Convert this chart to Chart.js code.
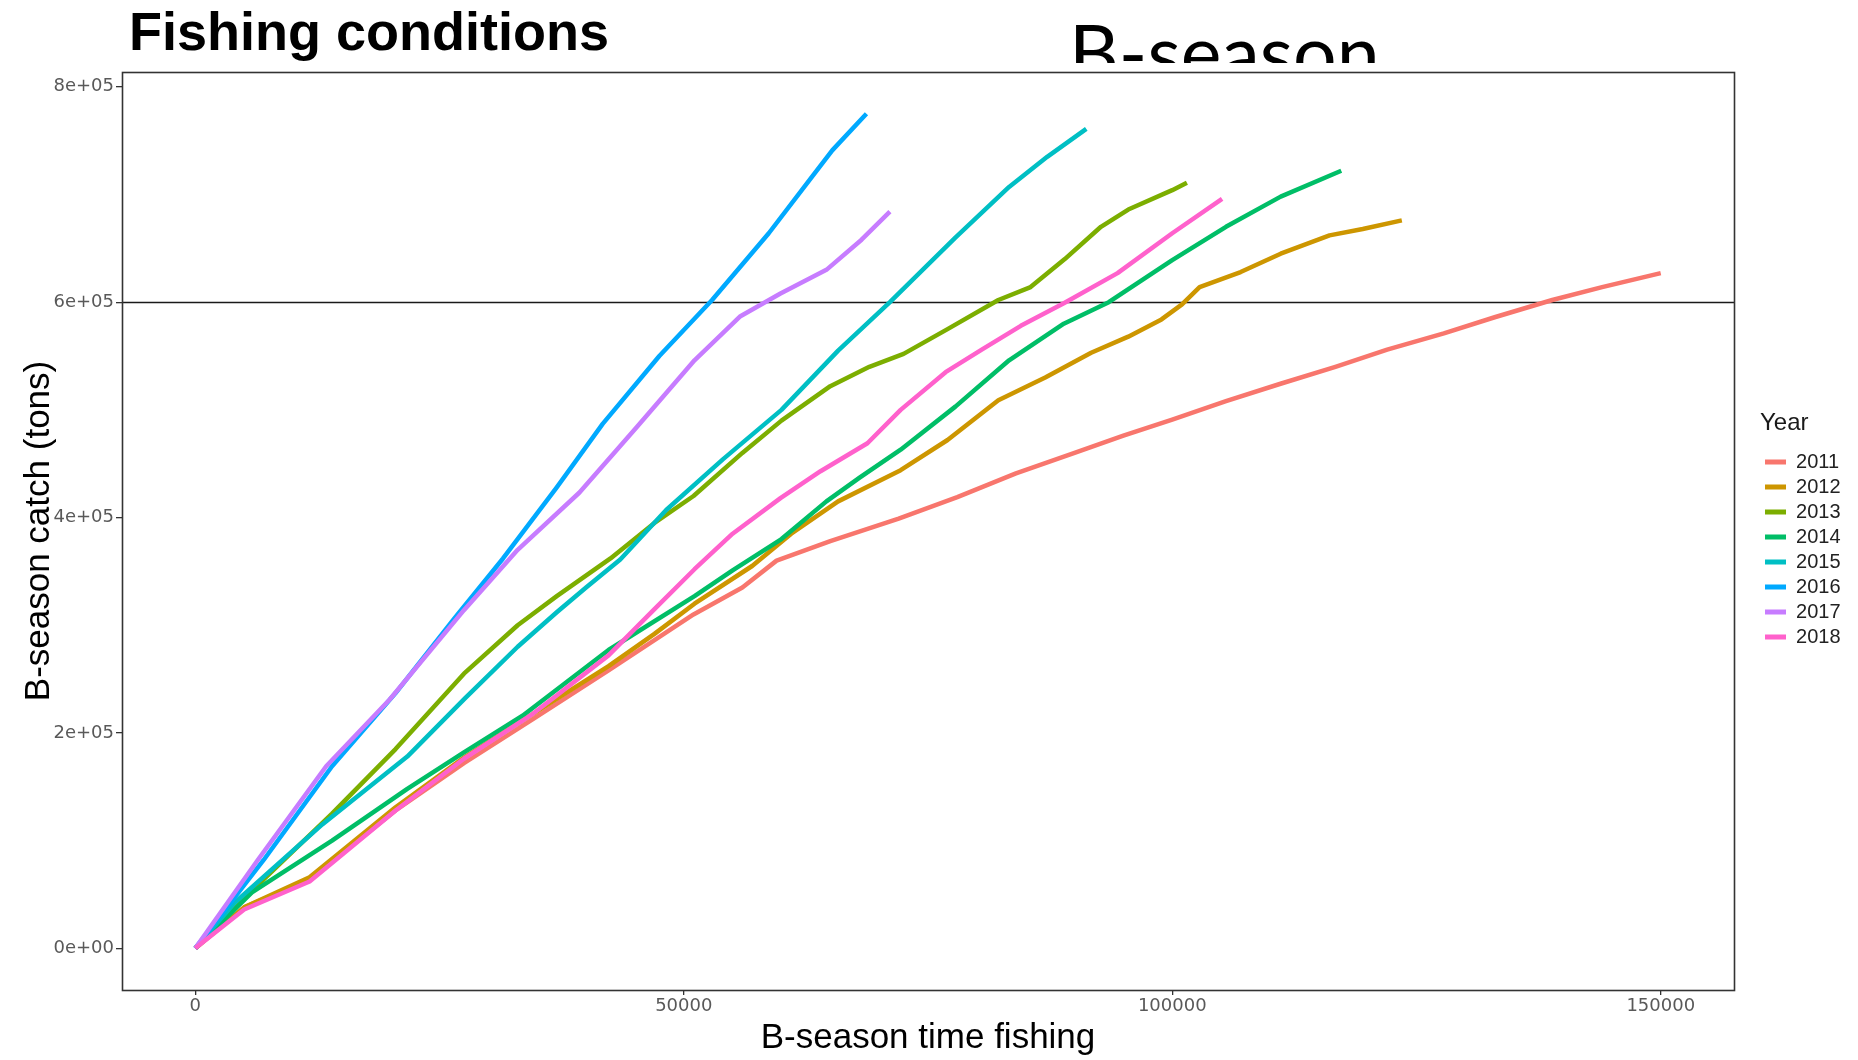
<!DOCTYPE html>
<html>
<head>
<meta charset="utf-8">
<script src="https://cdn.jsdelivr.net/npm/chart.js@4.4.1/dist/chart.umd.min.js"></script>
<style>
  html, body { margin: 0; padding: 0; background: #fff; width: 1858px; height: 1060px; overflow: hidden; }
  #wrap { position: absolute; left: 0; top: 0; width: 1858px; height: 1060px; }
  #title { position: absolute; left: 129px; top: 4px; font: bold 54px/54px "Liberation Sans", Arial, sans-serif; color: #000; white-space: nowrap; }
  #sub { position: absolute; left: 1055px; top: 0; width: 420px; height: 63px; overflow: hidden; }
  #sub span { position: absolute; left: 14px; top: 13px; font: 77px/77px Lato, "Open Sans", sans-serif; color: #000; white-space: nowrap; }
</style>
</head>
<body>
<div id="wrap"><canvas id="c" width="1858" height="1060"></canvas></div>
<div id="title">Fishing conditions</div>
<div id="sub"><span>B-season</span></div>
<script>
// ---------------- data ----------------
const YEARS = ['2011', '2012', '2013', '2014', '2015', '2016', '2017', '2018'];

const TIME_2011  = [0, 5000, 11700, 20500, 27500, 34600, 42300, 51000, 56000, 59500, 65000, 72000, 78000, 84000, 90000, 95000, 100000, 105500, 111000, 116700, 122000, 127800, 133000, 138900, 144000, 150000];
const CATCH_2011 = [0, 38000, 64000, 128000, 172000, 213000, 258000, 310000, 335000, 360000, 378000, 399000, 419000, 441000, 460000, 476000, 491000, 508000, 524000, 540000, 556000, 571000, 586000, 602000, 614000, 627000];

const TIME_2012  = [0, 5000, 11700, 20500, 27500, 34600, 42300, 47000, 51100, 57000, 61000, 65800, 72200, 77000, 82200, 87000, 91700, 95500, 98900, 101000, 102800, 107000, 111100, 116100, 119500, 123500];
const CATCH_2012 = [0, 38000, 66000, 131000, 177000, 218000, 262000, 292000, 320000, 355000, 385000, 415000, 444000, 472000, 509000, 530000, 553000, 568000, 584000, 598000, 614000, 628000, 645000, 662000, 668000, 676000];

const TIME_2013  = [0, 7000, 14000, 20500, 27500, 33000, 37000, 42500, 47000, 51000, 56000, 60000, 65000, 69000, 72500, 77000, 82200, 85500, 89000, 92700, 95500, 100000, 101500];
const CATCH_2013 = [0, 64000, 125000, 185000, 255000, 300000, 327000, 362000, 395000, 420000, 460000, 490000, 522000, 540000, 552000, 575000, 602000, 614000, 640000, 670000, 686000, 704000, 711000];

const TIME_2014  = [0, 5800, 14000, 21700, 27500, 33500, 42300, 51100, 55000, 60000, 64600, 68000, 72200, 77800, 83300, 88900, 93500, 100000, 105500, 111100, 117300];
const CATCH_2014 = [0, 52000, 100000, 148000, 182000, 216000, 277000, 327000, 351000, 380000, 415000, 437000, 463000, 503000, 546000, 580000, 600000, 639000, 670000, 698000, 722000];

const TIME_2015  = [0, 4000, 13000, 21700, 27600, 33000, 37000, 40000, 43500, 48200, 54000, 60000, 65800, 71100, 77800, 83300, 87200, 91200];
const CATCH_2015 = [0, 42000, 115000, 178000, 232000, 280000, 312000, 335000, 361000, 407000, 454000, 500000, 555000, 600000, 660000, 707000, 735000, 761000];

const TIME_2016  = [0, 7000, 14000, 20500, 26500, 31500, 37000, 41700, 47500, 52900, 58700, 63000, 65200, 68700];
const CATCH_2016 = [0, 82000, 169000, 237000, 306000, 362000, 428000, 487000, 550000, 602000, 664000, 715000, 741000, 775000];

const TIME_2017  = [0, 6400, 13400, 19900, 27500, 33000, 39300, 45200, 51100, 55800, 59900, 64600, 68200, 71100];
const CATCH_2017 = [0, 82000, 169000, 231000, 314000, 370000, 423000, 484000, 546000, 587000, 608000, 630000, 658000, 684000];

const TIME_2018  = [0, 5000, 11700, 20500, 27500, 34600, 42300, 47000, 51100, 55000, 59900, 64000, 68800, 72200, 76800, 80500, 84500, 88900, 94400, 100000, 105100];
const CATCH_2018 = [0, 36000, 62000, 128000, 176000, 218000, 272000, 315000, 352000, 385000, 418000, 443000, 469000, 500000, 535000, 556000, 578000, 599000, 627000, 664000, 696000];

const X_TICKS = [0, 50000, 100000, 150000];
const X_TICK_LABELS = ['0', '50000', '100000', '150000'];
const Y_TICKS = [0, 200000, 400000, 600000, 800000];
const Y_TICK_LABELS = ['0e+00', '2e+05', '4e+05', '6e+05', '8e+05'];
const THRESHOLD = 600000;
const X_RANGE = [-7500, 157500];
const Y_RANGE = [-38750, 813750];

// ---------------- style ----------------
const COLORS = ['#F8766D', '#CD9600', '#7CAE00', '#00BE67', '#00BFC4', '#00A9FF', '#C77CFF', '#FF61CC'];
const SERIES = [
  [TIME_2011, CATCH_2011], [TIME_2012, CATCH_2012], [TIME_2013, CATCH_2013], [TIME_2014, CATCH_2014],
  [TIME_2015, CATCH_2015], [TIME_2016, CATCH_2016], [TIME_2017, CATCH_2017], [TIME_2018, CATCH_2018]
];

const datasets = YEARS.map((yr, i) => ({
  label: yr,
  data: SERIES[i][0].map((t, j) => ({ x: t, y: SERIES[i][1][j] })),
  borderColor: COLORS[i],
  backgroundColor: COLORS[i],
  borderWidth: 4.5,
  pointRadius: 0,
  pointHoverRadius: 0,
  tension: 0,
  fill: false,
  borderJoinStyle: 'round',
  order: YEARS.length - i
}));

const panelPlugin = {
  id: 'panel',
  beforeDatasetsDraw(chart) {
    const { ctx, chartArea: a, scales: { y } } = chart;
    const py = Math.round(y.getPixelForValue(THRESHOLD)) + 0.5;
    ctx.save();
    ctx.strokeStyle = '#1a1a1a';
    ctx.lineWidth = 1.6;
    ctx.beginPath();
    ctx.moveTo(a.left, py);
    ctx.lineTo(a.right, py);
    ctx.stroke();
    ctx.restore();
  },
  afterDraw(chart) {
    const { ctx, chartArea: a } = chart;
    ctx.save();
    ctx.strokeStyle = '#333333';
    ctx.lineWidth = 1.6;
    ctx.strokeRect(Math.round(a.left) + 0.5, Math.round(a.top) + 0.5, Math.round(a.right - a.left), Math.round(a.bottom - a.top));
    ctx.restore();
  }
};

const legendShift = {
  id: 'legendShift',
  afterLayout(chart) {
    const l = chart.legend;
    const dx = chart.chartArea.right + 26 - l.left;
    l.left += dx;
    l.right += dx;
  }
};

Chart.defaults.font.family = '"Liberation Sans", Arial, sans-serif';

new Chart(document.getElementById('c'), {
  type: 'line',
  data: { datasets },
  plugins: [panelPlugin, legendShift],
  options: {
    responsive: false,
    animation: false,
    events: [],
    layout: { padding: { top: 72, left: 0, right: 33.5, bottom: 0 } },
    plugins: {
      tooltip: { enabled: false },
      legend: {
        position: 'right',
        align: 'center',
        fullSize: false,
        title: {
          display: true,
          text: 'Year',
          position: 'start',
          color: '#1a1a1a',
          font: { size: 24, family: '"Liberation Sans", Arial, sans-serif' },
          padding: { top: 1, bottom: 7.2 }
        },
        labels: {
          boxWidth: 21,
          boxHeight: 5,
          padding: 5,
          color: '#222',
          font: { size: 20, family: '"Liberation Sans", Arial, sans-serif' },
          generateLabels(chart) {
            const items = Chart.defaults.plugins.legend.labels.generateLabels(chart);
            items.forEach(it => { it.lineWidth = 0; it.fillStyle = it.strokeStyle; });
            return items.sort((a, b) => a.datasetIndex - b.datasetIndex);
          }
        }
      }
    },
    scales: {
      x: {
        type: 'linear',
        min: X_RANGE[0],
        max: X_RANGE[1],
        afterBuildTicks(s) { s.ticks = X_TICKS.map(v => ({ value: v })); },
        afterFit(s) { s.height = 70; },
        border: { display: false },
        grid: { display: true, drawOnChartArea: false, drawTicks: true, tickLength: 5, color: '#333', lineWidth: 1.3 },
        ticks: {
          padding: 1,
          maxRotation: 0,
          autoSkip: false,
          color: '#595959',
          font: { size: 18, family: '"DejaVu Sans", sans-serif' },
          callback(v) { const k = X_TICKS.indexOf(v); return k >= 0 ? X_TICK_LABELS[k] : ''; }
        },
        title: {
          display: true,
          text: 'B-season time fishing',
          color: '#000',
          font: { size: 35, family: '"Liberation Sans", Arial, sans-serif' },
          padding: { top: 0, bottom: 1 }
        }
      },
      y: {
        type: 'linear',
        min: Y_RANGE[0],
        max: Y_RANGE[1],
        afterBuildTicks(s) { s.ticks = Y_TICKS.map(v => ({ value: v })); },
        afterFit(s) { s.width = 122; },
        border: { display: false },
        grid: { display: true, drawOnChartArea: false, drawTicks: true, tickLength: 6, color: '#333', lineWidth: 1.3 },
        ticks: {
          padding: 2,
          autoSkip: false,
          color: '#595959',
          font: { size: 18, family: '"DejaVu Sans", sans-serif' },
          callback(v) { const k = Y_TICKS.indexOf(v); return k >= 0 ? Y_TICK_LABELS[k] : ''; }
        },
        title: {
          display: true,
          text: 'B-season catch (tons)',
          color: '#000',
          font: { size: 35, family: '"Liberation Sans", Arial, sans-serif' },
          padding: { top: 18, bottom: 0 }
        }
      }
    }
  }
});
</script>
</body>
</html>
